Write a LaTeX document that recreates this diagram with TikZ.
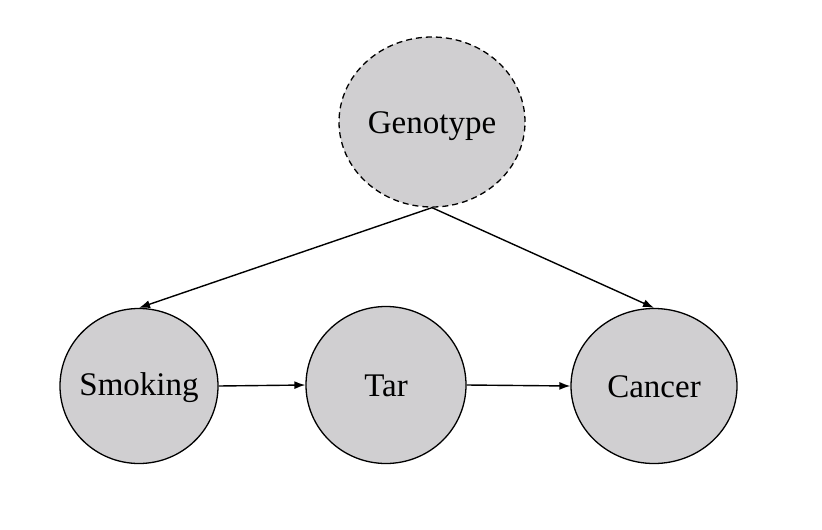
\documentclass[tikz,border=0pt]{standalone}
\usepackage{fontspec}
\setmainfont{Liberation Serif}
\usetikzlibrary{arrows.meta,shapes.geometric}
\definecolor{nodegray}{RGB}{208,207,209}
\begin{document}
\begin{tikzpicture}[x=1pt,y=-1pt,
  var/.style={ellipse,draw=black,line width=1.3pt,fill=nodegray,inner sep=0pt,font=\fontsize{33}{38}\selectfont},
  lbl/.style={font=\fontsize{33}{38}\selectfont,inner sep=0pt},
  conn/.style={line width=1.4pt,-{Latex[length=11pt,width=8pt]}}]
\useasboundingbox (0,0) rectangle (822,530);
\node[var,dashed,dash pattern=on 6pt off 4pt,minimum width=186pt,minimum height=170pt] (g) at (432,122) {};
\node[var,minimum width=158pt,minimum height=155pt] (s) at (139,386) {};
\node[var,minimum width=160pt,minimum height=157pt] (t) at (386,385) {};
\node[var,minimum width=166pt,minimum height=155pt] (c) at (654,386) {};
\node[lbl] (gl) at ([yshift=-4pt]g.center) {Genotype};
\node[lbl] (sl) at ([yshift=-2pt]s.center) {Smoking};
\node[lbl] (tl) at ([yshift=-1pt]t.center) {Tar};
\node[lbl] (cl) at ([yshift=-1pt]c.center) {Cancer};
\draw[conn] (g.south) -- (s.north);
\draw[conn] (g.south) -- (c.north);
\draw[conn] (s.east) -- (t.west);
\draw[conn] (t.east) -- (c.west);
\end{tikzpicture}
\end{document}
